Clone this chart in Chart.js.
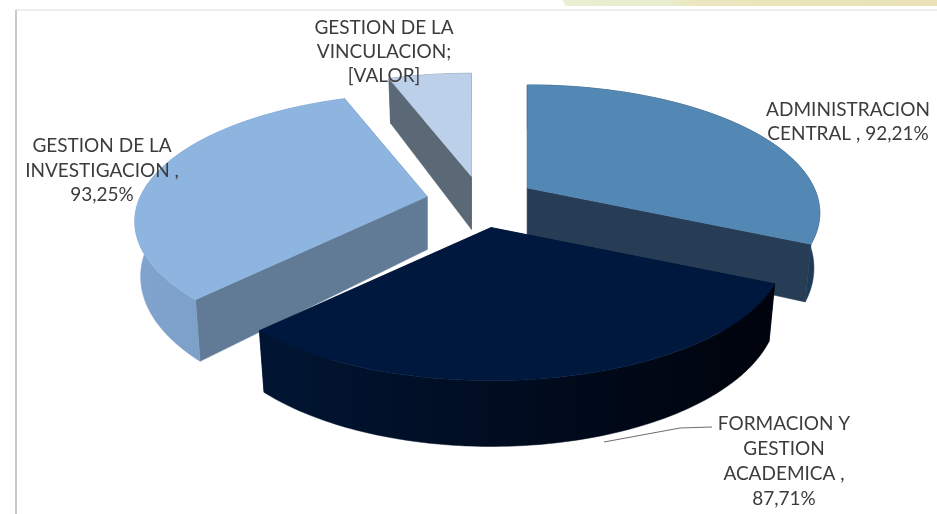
<!DOCTYPE html>
<html>
<head>
<meta charset="utf-8">
<style>
html,body{margin:0;padding:0;background:#fff;width:937px;height:514px;overflow:hidden}
#wrap{position:absolute;left:0;top:0;width:937px;height:514px}
#strip{position:absolute;left:562px;top:0;width:375px;height:6px;background:linear-gradient(90deg,#e9efd3 0%,#e9edcf 28%,#ebe6be 36%,#e9e2b6 100%);clip-path:polygon(0 0,100% 0,100% 100%,4px 100%)}
#ruleT{position:absolute;left:16px;top:9px;width:921px;height:2px;background:#eeeeee}
#ruleL{position:absolute;left:15px;top:10px;width:2px;height:504px;background:#c9c9c9}
canvas{position:absolute;left:0;top:0;filter:blur(0.6px)}
</style>
</head>
<body>
<div id="wrap">
<div id="strip"></div><div id="ruleT"></div><div id="ruleL"></div>
<canvas id="c" width="937" height="514"></canvas>
</div>
<script src="https://cdn.jsdelivr.net/npm/chart.js@4"></script>
<script>
const categories = ["ADMINISTRACION CENTRAL", "FORMACION Y GESTION ACADEMICA", "GESTION DE LA INVESTIGACION", "GESTION DE LA VINCULACION"];
const values = [92.21, 87.71, 93.25, 16];
const topColors = ["#5387b4", "#00183d", "#8db5df", "#bcd1e9"];
const faceColors = ["#263d55", "#00183d", "#617b96", "#5b6875"];
const rimStart = ["#1f3d5c", "#011533", "#7fa3cc", "#5b6875"];
const rimEnd = ["#1f3a56", "#00030c", "#789bc2", "#5b6875"];
const labelLines = [
  ["ADMINISTRACION", "CENTRAL , 92,21%"],
  ["FORMACION Y", "GESTION", "ACADEMICA ,", "87,71%"],
  ["GESTION DE LA", "INVESTIGACION ,", "93,25%"],
  ["GESTION DE LA", "VINCULACION;", "[VALOR]"]
];
const labelAnchors = [[848,110,24],[784,424,25],[102,146,24.5],[384,28,24]];
const leader = [[712,427],[680,428],[604,442]];
const drawOrder = [3,0,2,1];

const XS = 1.42, YS = 0.61, PERSP = 0.195, EXPX = 55, EXPY = 26, DEPTH = 53, NARROW = 0.98;

const pie3d = {
  id: 'pie3d',
  beforeDatasetDraw(chart) {
    const ctx = chart.ctx;
    const arcs = chart.getDatasetMeta(0).data;
    ctx.beginPath();
    leader.forEach((q, k) => k ? ctx.lineTo(q[0], q[1]) : ctx.moveTo(q[0], q[1]));
    ctx.strokeStyle = '#6b6b6b'; ctx.lineWidth = 1; ctx.stroke();
    drawOrder.forEach(i => {
      const p = arcs[i].getProps(['x','y','startAngle','endAngle','outerRadius'], true);
      const mid = (p.startAngle + p.endAngle) / 2;
      const ax = p.x + Math.cos(mid) * EXPX;
      const ay = p.y + Math.sin(mid) * EXPY;
      const rx = p.outerRadius * XS, ry = p.outerRadius * YS;
      const top = a => {
        const ux = Math.cos(a), uy = Math.sin(a), s = 1 / (1 - PERSP * uy);
        return [ax + rx * ux * s, ay + ry * uy * s, s];
      };
      const low = a => {
        const [x, y, s] = top(a);
        return [ax + (x - ax) * NARROW, y + DEPTH * s];
      };
      const n = Math.ceil((p.endAngle - p.startAngle) * 180 / Math.PI);
      const angs = [];
      for (let k = 0; k <= n; k++) angs.push(p.startAngle + (p.endAngle - p.startAngle) * k / n);
      const poly = (pts, fill) => {
        ctx.beginPath();
        pts.forEach((q, k) => k ? ctx.lineTo(q[0], q[1]) : ctx.moveTo(q[0], q[1]));
        ctx.closePath();
        ctx.fillStyle = fill; ctx.strokeStyle = fill; ctx.lineWidth = 0.5;
        ctx.fill(); ctx.stroke();
      };
      const A = [ax, ay], B = [ax, ay + DEPTH];
      const outer = angs.map(top);
      const xs = outer.map(q => q[0]);
      const g = ctx.createLinearGradient(Math.min(...xs), 0, Math.max(...xs), 0);
      g.addColorStop(0, rimStart[i]); g.addColorStop(1, rimEnd[i]);
      poly([A, top(p.startAngle), low(p.startAngle), B], faceColors[i]);
      poly([A, top(p.endAngle), low(p.endAngle), B], faceColors[i]);
      poly(outer.concat(angs.slice().reverse().map(low)), g);
      poly([A].concat(outer), topColors[i]);
    });
    ctx.font = '19px Lato';
    ctx.fillStyle = '#3c3c3c';
    ctx.textAlign = 'center';
    ctx.textBaseline = 'middle';
    labelLines.forEach((lines, i) => {
      const [x, y, lh] = labelAnchors[i];
      lines.forEach((t, k) => ctx.fillText(t, x, y + k * lh));
    });
    return false;
  }
};

new Chart(document.getElementById('c'), {
  type: 'pie',
  data: { labels: categories, datasets: [{ data: values, backgroundColor: topColors, borderWidth: 0 }] },
  options: {
    responsive: false,
    animation: false,
    layout: { padding: { left: 25, bottom: 110 } },
    plugins: { legend: { display: false }, tooltip: { enabled: false } }
  },
  plugins: [pie3d]
});
</script>
</body>
</html>
